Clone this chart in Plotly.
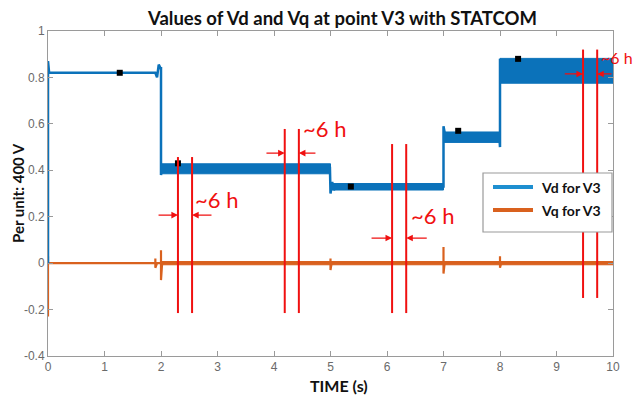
import plotly.graph_objects as go

# ---- data -------------------------------------------------------------
# Vd for V3: step response with switching transients
vd_time = [0, 0, 0.02, 1.90, 1.93, 1.96, 1.99, 2.0, 2.0, 2.02, 4.99, 5.0, 5.0,
           5.03, 5.06, 5.10, 6.99, 7.0, 7.0, 7.03, 7.99, 8.0, 8.0, 8.02, 10.0]
vd_value = [0.0, 0.87, 0.82, 0.82, 0.80, 0.855, 0.84, 0.84, 0.38, 0.41, 0.41, 0.36, 0.30,
            0.35, 0.315, 0.33, 0.33, 0.33, 0.59, 0.55, 0.54, 0.50, 0.88, 0.83, 0.83]

# Vd ripple envelope per operating interval
vd_band_start = [2.0, 5.0, 7.0, 8.0]
vd_band_end = [5.0, 7.0, 8.0, 10.0]
vd_band_low = [0.385, 0.315, 0.520, 0.775]
vd_band_high = [0.428, 0.343, 0.565, 0.882]

# Vq for V3
vq_time = [0, 0, 0, 0.02, 1.90, 1.90, 1.90, 1.93, 2.0, 2.0, 2.0, 2.02, 5.0, 5.0, 5.0,
           5.02, 7.0, 7.0, 7.0, 7.02, 8.0, 8.0, 8.0, 8.02, 10.0]
vq_value = [0.03, -0.23, 0.0, 0.0, 0.0, 0.02, -0.02, 0.0, 0.0, 0.056, -0.073, 0.0, 0.0, 0.02, -0.03,
            0.0, 0.0, 0.07, -0.045, 0.0, 0.0, 0.03, -0.02, 0.0, 0.0]
vq_band_start = [2.0]
vq_band_end = [10.0]
vq_band_low = [-0.007]
vq_band_high = [0.007]

# data-tip markers
tip_time = [1.27, 2.30, 5.36, 7.26, 8.32]
tip_value = [0.82, 0.43, 0.33, 0.57, 0.88]

# ~6 h interval markers: pairs of times, vertical extent, arrow level, label anchor
pair_left = [2.30, 4.19, 6.09, 9.47]
pair_right = [2.55, 4.44, 6.34, 9.72]
pair_top = [0.457, 0.578, 0.513, 0.92]
pair_bottom = [-0.215, -0.215, -0.215, -0.15]
arrow_level = [0.207, 0.474, 0.108, 0.815]
arrow_left_tail = [1.93, 3.84, 5.70, 9.12]
arrow_right_tail = [2.92, 4.76, 6.73, 10.0]
label_time = [2.57, 4.47, 6.39, 9.76]
label_value = [0.275, 0.58, 0.207, 0.888]
label_text = ["~6 h", "~6 h", "~6 h", "~6 h"]
label_size = [22, 22, 22, 16]

series_names = ["Vd for V3", "Vq for V3"]

x_ticks = list(range(0, 11))
y_tick_vals = [-0.4, -0.2, 0, 0.2, 0.4, 0.6, 0.8, 1]
y_tick_text = ["-0.4", "-0.2", "0", "0.2", "0.4", "0.6", "0.8", "1"]

# ---- styling ----------------------------------------------------------
BLUE = "#0B72BA"
LEGEND_BLUE = "#1E8FD0"
ORANGE = "#D9611E"
RED = "#F01010"
AXIS = "#9A9A9A"
TEXT = "#111111"
FONT = "Lato, Open Sans"
TICKFONT = dict(family="Liberation Sans, Arial", size=12, color="#6a6a6a")

# plot area in pixels (figure is 636 x 396)
L, R, T, B = 48, 613, 31, 356
W, H = R - L, B - T


def px_x(p):
    return (p - L) / W


def px_y(p):
    return (B - p) / H


fig = go.Figure()


def band_trace(t0, t1, lo, hi, color):
    return go.Scatter(
        x=[t0, t1, t1, t0, t0], y=[lo, lo, hi, hi, lo],
        mode="lines", fill="toself", fillcolor=color,
        line=dict(color=color, width=1), hoverinfo="skip", showlegend=False,
    )


# Vq
fig.add_trace(go.Scatter(x=vq_time, y=vq_value, mode="lines", name=series_names[1],
                         line=dict(color=ORANGE, width=2.2), showlegend=False))
for t0, t1, lo, hi in zip(vq_band_start, vq_band_end, vq_band_low, vq_band_high):
    fig.add_trace(band_trace(t0, t1, lo, hi, ORANGE))

# Vd
fig.add_trace(go.Scatter(x=vd_time, y=vd_value, mode="lines", name=series_names[0],
                         line=dict(color=BLUE, width=2.5), showlegend=False))
for t0, t1, lo, hi in zip(vd_band_start, vd_band_end, vd_band_low, vd_band_high):
    fig.add_trace(band_trace(t0, t1, lo, hi, BLUE))

fig.add_trace(go.Scatter(x=tip_time, y=tip_value, mode="markers",
                         marker=dict(symbol="square", size=6, color="black"),
                         showlegend=False, hoverinfo="skip"))

shapes = []
annotations = []

# interval markers
for i in range(len(pair_left)):
    for t in (pair_left[i], pair_right[i]):
        shapes.append(dict(type="line", xref="x", yref="y", x0=t, x1=t,
                           y0=pair_bottom[i], y1=pair_top[i],
                           line=dict(color=RED, width=2)))
    for tail, head in ((arrow_left_tail[i], pair_left[i]), (arrow_right_tail[i], pair_right[i])):
        annotations.append(dict(x=head, y=arrow_level[i], ax=tail, ay=arrow_level[i],
                                xref="x", yref="y", axref="x", ayref="y", text="",
                                showarrow=True, arrowhead=2, arrowsize=1.1,
                                arrowwidth=1.2, arrowcolor=RED))
    annotations.append(dict(x=label_time[i], y=label_value[i], xref="x", yref="y",
                            text=label_text[i], showarrow=False, xanchor="left",
                            yanchor="middle",
                            font=dict(family=FONT, size=label_size[i], color=RED)))

# legend box
shapes.append(dict(type="rect", xref="paper", yref="paper",
                   x0=px_x(483), x1=px_x(612), y0=px_y(232), y1=px_y(173),
                   fillcolor="white", line=dict(color=AXIS, width=1.2), layer="above"))
for name, color, yp in ((series_names[0], LEGEND_BLUE, 187), (series_names[1], ORANGE, 210)):
    shapes.append(dict(type="line", xref="paper", yref="paper",
                       x0=px_x(493), x1=px_x(533), y0=px_y(yp), y1=px_y(yp),
                       line=dict(color=color, width=4), layer="above"))
    annotations.append(dict(x=px_x(539), y=px_y(yp), xref="paper", yref="paper",
                            text=f"<b>{name}</b>", showarrow=False, xanchor="left",
                            yanchor="middle", font=dict(family=FONT, size=14, color=TEXT)))

# title and axis labels
annotations.append(dict(x=px_x(342), y=px_y(18), xref="paper", yref="paper",
                        text="<b>Values of Vd and Vq at point V3 with STATCOM</b>",
                        showarrow=False, xanchor="center", yanchor="middle",
                        font=dict(family=FONT, size=18.5, color=TEXT)))
annotations.append(dict(x=px_x(339), y=px_y(385), xref="paper", yref="paper",
                        text="<b>TIME (s)</b>", showarrow=False, xanchor="center",
                        yanchor="middle", font=dict(family=FONT, size=16, color=TEXT)))
annotations.append(dict(x=px_x(18), y=px_y(193), xref="paper", yref="paper",
                        text="<b>Per unit: 400 V</b>", showarrow=False, textangle=-90,
                        xanchor="center", yanchor="middle",
                        font=dict(family=FONT, size=15, color=TEXT)))

fig.update_layout(
    width=636, height=396,
    margin=dict(l=L, r=636 - R, t=T, b=396 - B),
    paper_bgcolor="white", plot_bgcolor="white",
    shapes=shapes, annotations=annotations,
    showlegend=False,
    xaxis=dict(range=[0, 10], tickvals=x_ticks, ticks="inside", ticklen=5,
               tickcolor=AXIS, showline=True, linecolor=AXIS, linewidth=1,
               mirror="ticks", showgrid=False, zeroline=False, tickfont=TICKFONT),
    yaxis=dict(range=[-0.4, 1], tickvals=y_tick_vals, ticktext=y_tick_text,
               ticks="inside", ticklen=5, tickcolor=AXIS, showline=True,
               linecolor=AXIS, linewidth=1, mirror="ticks", showgrid=False,
               zeroline=False, tickfont=TICKFONT),
)

fig.write_html("out.html")
